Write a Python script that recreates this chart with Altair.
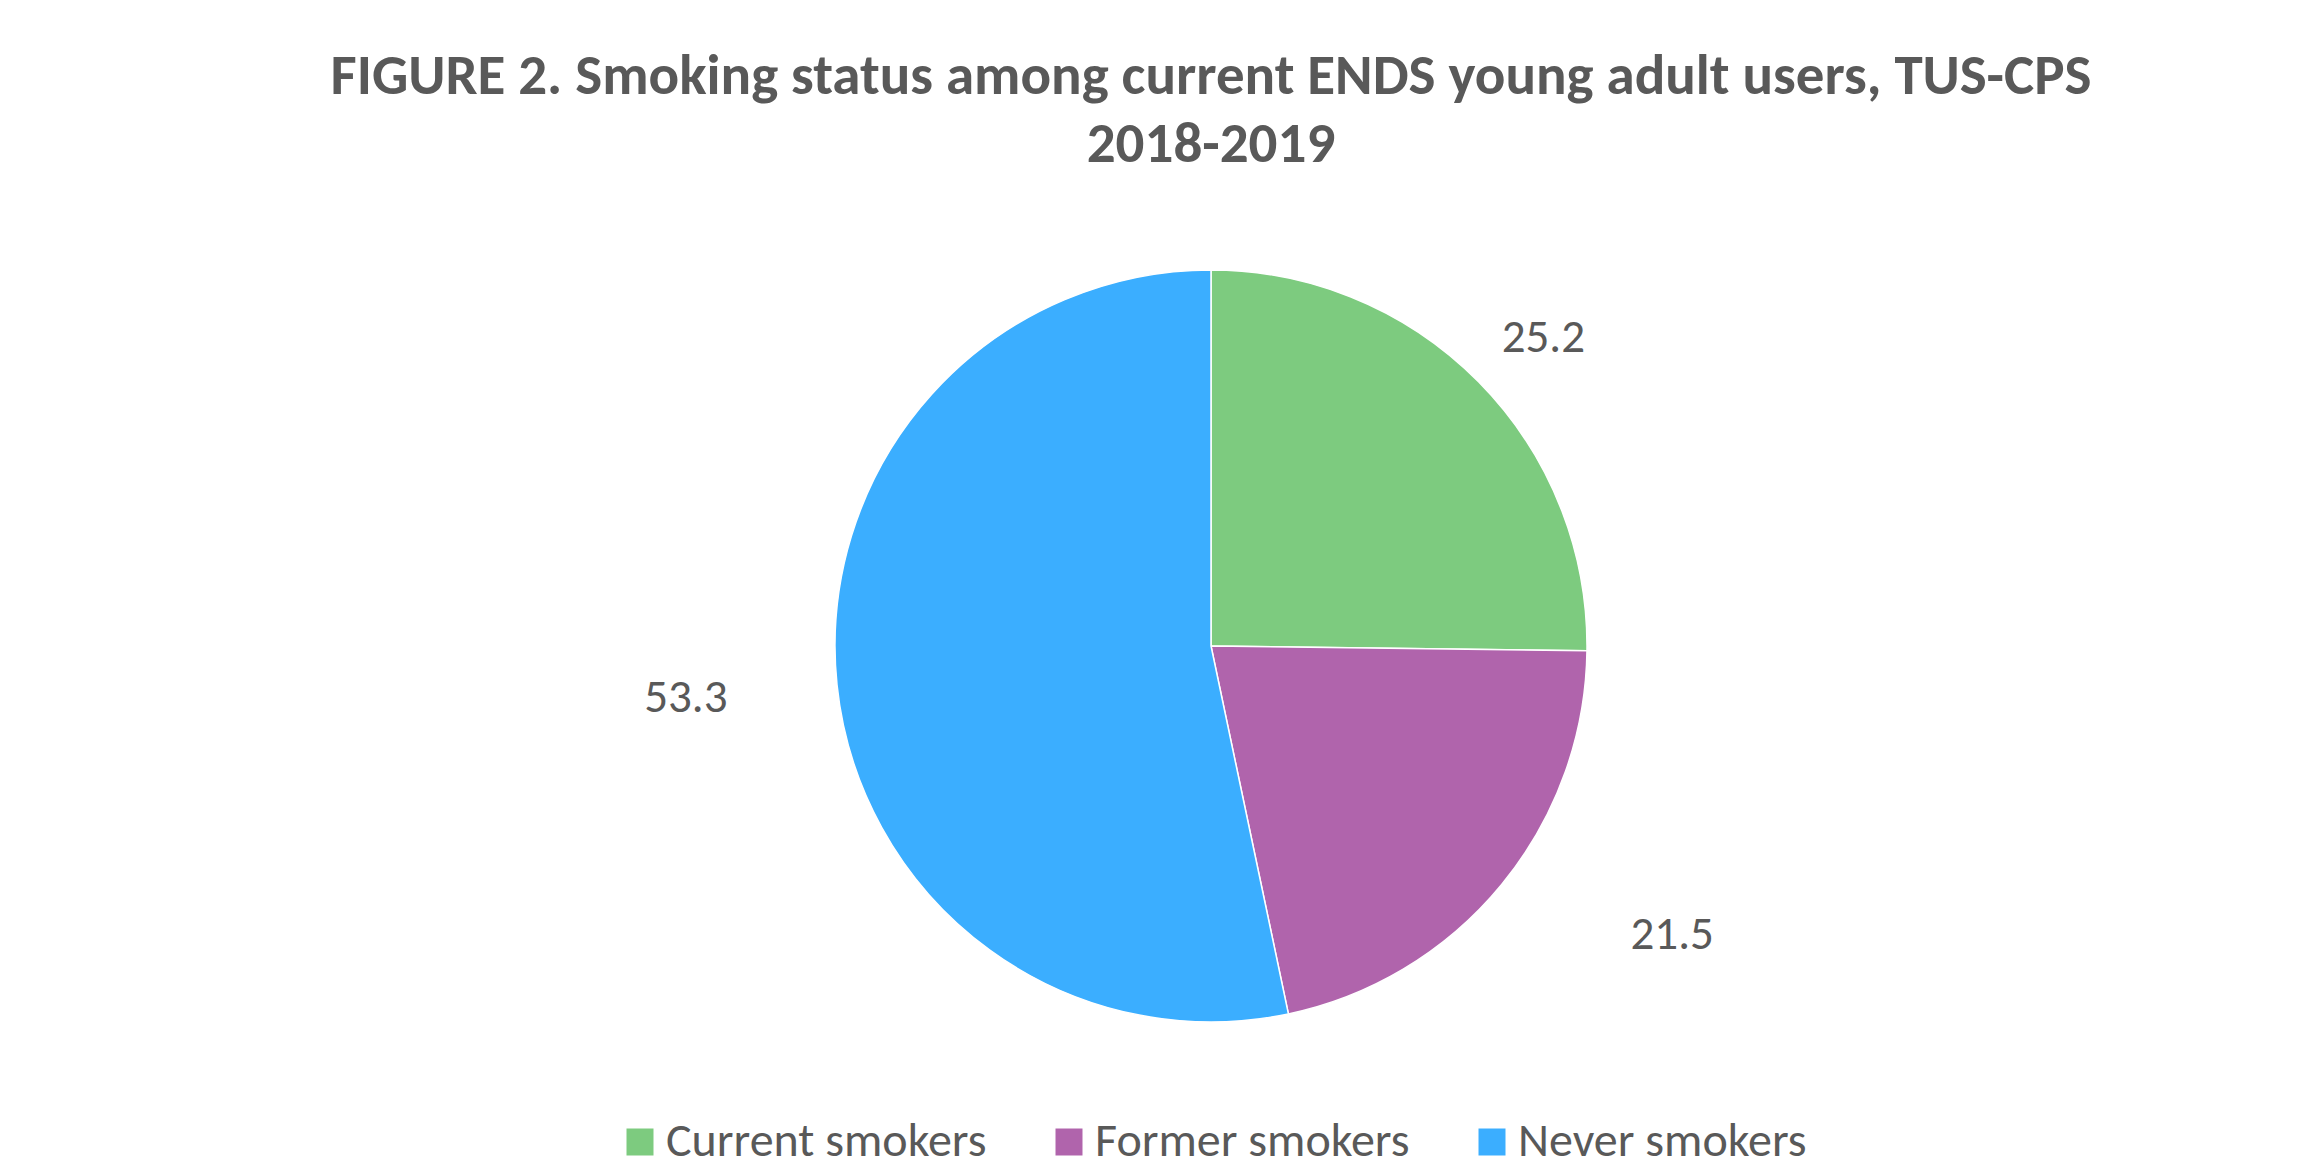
import altair as alt
import pandas as pd

categories = ["Current smokers", "Former smokers", "Never smokers"]
values = [25.2, 21.5, 53.3]
labels = ["25.2", "21.5", "53.3"]
colors = ["#7DCB7F", "#B064AC", "#3BAEFF"]

df = pd.DataFrame({
    "category": categories,
    "value": values,
    "label": labels,
    "order": list(range(len(categories))),
})

FONT = "Carlito, Calibri, 'Liberation Sans Narrow', 'Open Sans', sans-serif"
TXT = "#595959"

color_scale = alt.Scale(domain=categories, range=colors)

base = alt.Chart(df).encode(
    theta=alt.Theta("value:Q", stack=True),
    order=alt.Order("order:Q"),
)

pie = base.mark_arc(outerRadius=376, stroke="white", strokeWidth=1.5).encode(
    color=alt.Color(
        "category:N",
        scale=color_scale,
        sort=categories,
        legend=alt.Legend(
            title=None,
            orient="none",
            direction="horizontal",
            legendX=510,
            legendY=989,
            symbolType="square",
            symbolSize=729,
            symbolStrokeWidth=0,
            labelFontSize=48,
            labelFont=FONT,
            labelColor=TXT,
            labelOffset=2,
            columnPadding=58,
            padding=0,
            labelLimit=600,
        ),
    )
)

# label placement (style): radius, dx, dy per category
label_style = {
    "Current smokers": (453, 10, 10),
    "Former smokers": (540, 44, -54),
    "Never smokers": (528, 0, -3),
}

text_layers = []
for cat in categories:
    r, dx, dy = label_style[cat]
    text_layers.append(
        base.mark_text(
            font=FONT, fontSize=47, color=TXT, dx=dx, dy=dy,
            align="center", baseline="middle",
        ).encode(
            text="label:N",
            radius=alt.value(r),
            opacity=alt.condition(alt.datum.category == cat, alt.value(1), alt.value(0)),
        )
    )

chart = alt.layer(pie, *text_layers).properties(
    width=2210,
    height=1034,
    autosize="none",
    padding={"left": 106, "top": 129, "right": 0, "bottom": 0},
    title=alt.TitleParams(
        text=["FIGURE 2. Smoking status among current ENDS young adult users, TUS-CPS", "2018-2019"],
        font=FONT,
        fontSize=57,
        fontWeight="bold",
        color=TXT,
        anchor="middle",
        lineHeight=68,
        offset=-45,
    ),
).configure_view(stroke=None).configure(background="white")

chart.save("out.html", embed_options={"renderer": "svg", "actions": False})
